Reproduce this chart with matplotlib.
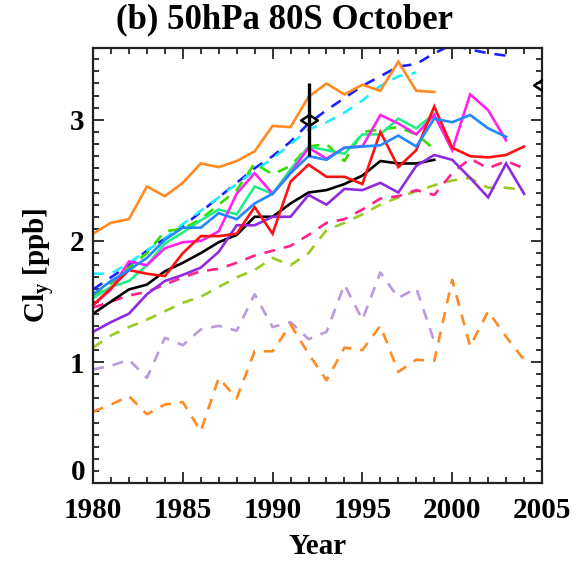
import numpy as np
import matplotlib
matplotlib.use("Agg")
import matplotlib.pyplot as plt
from matplotlib.path import Path
from matplotlib.ticker import MultipleLocator

plt.rcParams['font.family'] = ['Liberation Serif', 'DejaVu Serif']
plt.rcParams['font.weight'] = 'bold'
plt.rcParams['mathtext.fontset'] = 'custom'
plt.rcParams['mathtext.rm'] = 'Liberation Serif:bold'
plt.rcParams['mathtext.it'] = 'Liberation Serif:bold'
plt.rcParams['mathtext.bf'] = 'Liberation Serif:bold'

# ---------------- data ----------------
years_80_99 = list(range(1980, 2000))
years_80_98 = list(range(1980, 1999))
years_80_03 = list(range(1980, 2004))
years_80_04 = list(range(1980, 2005))

orange_solid = [2.06, 2.15, 2.18, 2.45, 2.37, 2.48, 2.64, 2.61, 2.66, 2.74,
                2.95, 2.94, 3.19, 3.30, 3.21, 3.29, 3.24, 3.48, 3.24, 3.23]
blue_dashed = [1.60, 1.70, 1.80, 1.92, 2.02, 2.12, 2.24, 2.36, 2.48, 2.60,
               2.70, 2.82, 2.97, 3.08, 3.18, 3.28, 3.36, 3.44, 3.46, 3.55,
               3.62, 3.58, 3.55, 3.53]
cyan_dashed = [1.73, 1.73, 1.82, 1.92, 2.02, 2.14, 2.25, 2.36, 2.47, 2.58,
               2.68, 2.80, 2.92, 2.98, 3.06, 3.16, 3.28, 3.36, 3.39]
green_dashed = [1.55, 1.65, 1.78, 1.90, 2.08, 2.10, 2.18, 2.30, 2.42, 2.64,
                2.55, 2.62, 2.78, 2.80, 2.66, 2.90, 2.92, 2.94, 2.88, 2.76]
spring_solid = [1.53, 1.62, 1.67, 1.80, 1.98, 2.07, 2.17, 2.26, 2.22, 2.45,
                2.39, 2.59, 2.78, 2.75, 2.72, 2.88, 2.88, 3.01, 2.93, 3.05]
azure_solid = [1.56, 1.67, 1.76, 1.86, 2.01, 2.11, 2.11, 2.23, 2.18, 2.31,
               2.39, 2.56, 2.70, 2.67, 2.77, 2.78, 2.79, 2.87, 2.78, 3.01,
               2.98, 3.04, 2.93, 2.86]
magenta_solid = [1.47, 1.60, 1.83, 1.80, 1.94, 1.99, 2.00, 2.08, 2.39, 2.56,
                 2.39, 2.56, 2.77, 2.68, 2.77, 2.78, 3.04, 2.97, 2.88, 3.04,
                 2.75, 3.21, 3.08, 2.83]
red_solid = [1.47, 1.61, 1.76, 1.73, 1.71, 1.90, 2.04, 2.04, 2.06, 2.28,
             2.06, 2.49, 2.63, 2.53, 2.53, 2.47, 2.90, 2.61, 2.75, 3.11,
             2.77, 2.70, 2.69, 2.71, 2.78]
black_solid = [1.40, 1.50, 1.60, 1.64, 1.75, 1.82, 1.90, 1.99, 2.05, 2.20,
               2.20, 2.31, 2.40, 2.42, 2.47, 2.54, 2.66, 2.64, 2.64, 2.67]
purple_solid = [1.25, 1.33, 1.40, 1.56, 1.67, 1.72, 1.78, 1.91, 2.13, 2.13,
                2.20, 2.20, 2.38, 2.30, 2.43, 2.42, 2.48, 2.40, 2.62, 2.71,
                2.67, 2.52, 2.36, 2.64, 2.39]
pink_dashed = [1.45, 1.50, 1.55, 1.58, 1.64, 1.70, 1.75, 1.77, 1.82, 1.88,
               1.92, 1.96, 2.05, 2.15, 2.18, 2.26, 2.35, 2.37, 2.42, 2.38,
               2.56, 2.68, 2.60, 2.66, 2.60]
yellowgreen_dashed = [1.12, 1.22, 1.29, 1.35, 1.42, 1.49, 1.54, 1.62, 1.70, 1.76,
                      1.86, 1.80, 1.90, 2.09, 2.15, 2.22, 2.30, 2.36, 2.41, 2.46,
                      2.50, 2.52, 2.44, 2.44, 2.42]
lilac_dashed = [0.94, 0.97, 1.02, 0.87, 1.20, 1.14, 1.27, 1.30, 1.26, 1.56,
                1.29, 1.33, 1.19, 1.25, 1.64, 1.35, 1.74, 1.53, 1.61, 1.17]
orange_dashed = [0.59, 0.65, 0.72, 0.57, 0.65, 0.67, 0.43, 0.87, 0.70, 1.09,
                 1.09, 1.31, 1.07, 0.85, 1.12, 1.10, 1.30, 0.92, 1.02, 1.01,
                 1.68, 1.13, 1.42, 1.21, 1.02]

obs_years = [1992, 2005]
obs_vals = [3.00, 3.29]
obs_err = [0.30, 0.0]

x_ticks = [1980, 1985, 1990, 1995, 2000, 2005]
y_ticks = [0, 1, 2, 3]

# ---------------- figure ----------------
fig = plt.figure(figsize=(5.78, 5.73), dpi=100)
ax = fig.add_axes([93 / 578, 1 - 483.3 / 573, (542 - 93) / 578, (483.3 - 48) / 573])

lw = 1.9
dash = (4.2, 3.4)

series = [
    (years_80_99, lilac_dashed, '#bb99dd', True),
    (years_80_04, orange_dashed, '#ff8a22', True),
    (years_80_04, yellowgreen_dashed, '#99cc22', True),
    (years_80_04, pink_dashed, '#ff2288', True),
    (years_80_03, blue_dashed, '#1a22ff', True),
    (years_80_98, cyan_dashed, '#22eeff', True),
    (years_80_99, green_dashed, '#33dd00', True),
    (years_80_99, orange_solid, '#ff8a22', False),
    (years_80_99, black_solid, '#000000', False),
    (years_80_04, purple_solid, '#8e2be0', False),
    (years_80_99, spring_solid, '#22ee88', False),
    (years_80_03, magenta_solid, '#ff22ee', False),
    (years_80_04, red_solid, '#ff1111', False),
    (years_80_03, azure_solid, '#2288ff', False),
]
for xs, ys, c, dashed in series:
    line, = ax.plot(xs, ys, color=c, lw=lw, solid_joinstyle='miter')
    if dashed:
        line.set_dashes(dash)

# observation markers (flattened diamond)
diamond = Path([(-1, 0), (0, 0.65), (1, 0), (0, -0.65), (-1, 0)],
               [Path.MOVETO, Path.LINETO, Path.LINETO, Path.LINETO, Path.CLOSEPOLY])
ax.errorbar(obs_years[:1], obs_vals[:1], yerr=obs_err[:1], fmt='none',
            ecolor='black', elinewidth=2.4, capsize=0, zorder=5)
ax.plot(obs_years, obs_vals, linestyle='none', marker=diamond, markersize=12,
        markerfacecolor='none', markeredgecolor='black', markeredgewidth=1.8,
        zorder=6, clip_on=True)

ax.set_xlim(1980, 2005)
ax.set_ylim(0, 3.593)

ax.set_xticks(x_ticks)
ax.set_xticklabels([str(v) for v in x_ticks])
ax.set_yticks(y_ticks)
ax.set_yticklabels(['' if v == 0 else str(v) for v in y_ticks])
ax.xaxis.set_minor_locator(MultipleLocator(1))
ax.yaxis.set_minor_locator(MultipleLocator(0.1))
ax.tick_params(which='both', direction='in', top=True, right=True,
               width=1.3, color='#222222')
ax.tick_params(which='major', length=8)
ax.tick_params(which='minor', length=4.5)
ax.tick_params(axis='x', which='major', labelsize=21, pad=10)
ax.tick_params(axis='y', which='major', labelsize=21, pad=6)
for lab in ax.get_xticklabels() + ax.get_yticklabels():
    lab.set_fontweight('bold')
for s in ax.spines.values():
    s.set_linewidth(1.6)
    s.set_color('#222222')

# "0" label sits a little above the bottom spine in the reference
ax.annotate('0', xy=(0, 0), xycoords=('axes fraction', 'data'),
            xytext=(-8, 11), textcoords='offset pixels',
            ha='right', va='center', fontsize=21, fontweight='bold')

ax.set_xlabel('Year', fontsize=21, fontweight='bold', labelpad=2)
ax.set_ylabel(r'Cl$_{\mathrm{y}}$ [ppb]', fontsize=21, fontweight='bold')
ax.yaxis.set_label_coords(-0.080, 0.5)
ax.xaxis.set_label_coords(0.5, -0.114)

fig.text(285 / 578, 1 - 20 / 573, '(b) 50hPa 80S October', ha='center',
         va='center', fontsize=25, fontweight='bold')

fig.savefig('out.png', dpi=100)
